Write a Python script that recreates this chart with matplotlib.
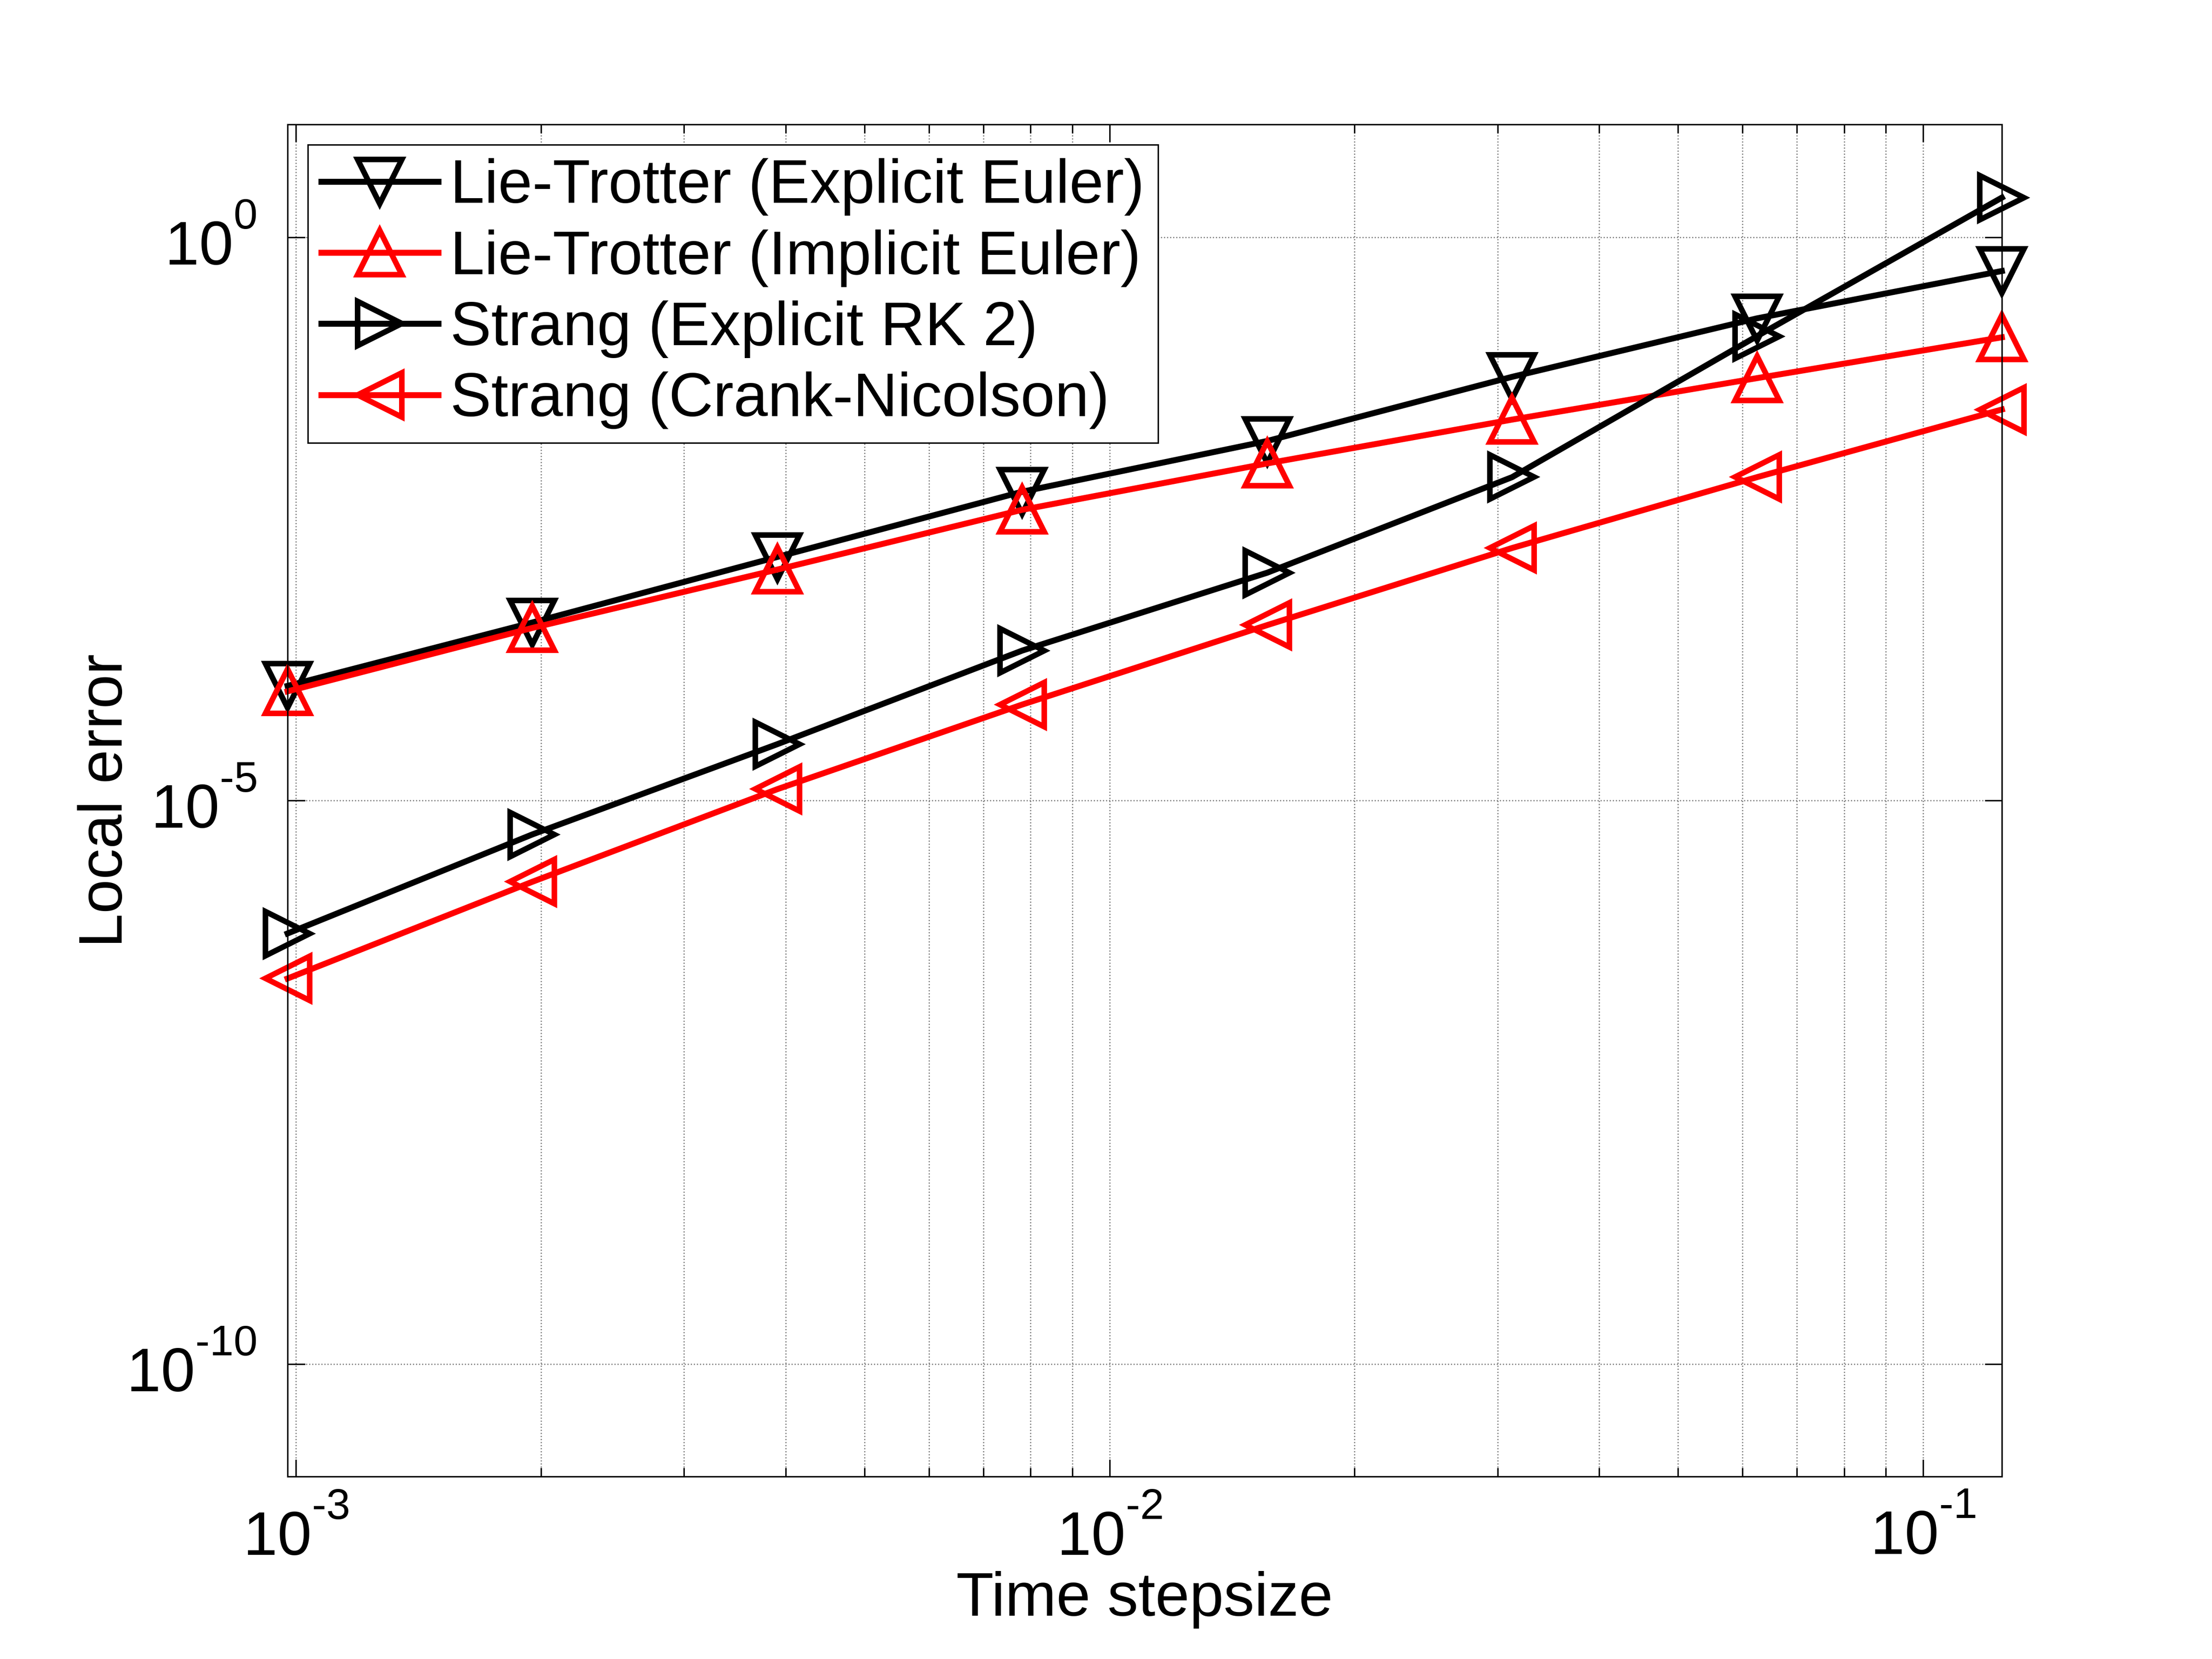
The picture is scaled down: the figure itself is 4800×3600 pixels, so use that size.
import numpy as np
import matplotlib
matplotlib.use("Agg")
import matplotlib.pyplot as plt
from matplotlib.ticker import LogLocator, NullLocator, FixedLocator, FuncFormatter

# raise superscripts a bit more, like the MATLAB tick labels
try:
    import matplotlib._mathtext as _mt
    _mt.FontConstantsBase.sup1 = 1.1
except Exception:
    pass

# time stepsizes (halved each step)
stepsizes = [0.0009765625, 0.001953125, 0.00390625, 0.0078125,
             0.015625, 0.03125, 0.0625, 0.125]

# local errors
lt_explicit = [1.04e-4, 3.8e-4, 1.45e-3, 5.5e-3, 1.55e-2, 5.75e-2, 0.19, 0.50]
lt_implicit = [9.3e-5, 3.4e-4, 1.12e-3, 3.8e-3, 9.8e-3, 2.4e-2, 5.6e-2, 0.129]
strang_rk2 = [6.6e-7, 5.0e-6, 3.16e-5, 2.14e-4, 1.05e-3, 7.4e-3, 0.132, 2.24]
strang_cn = [2.63e-7, 1.9e-6, 1.26e-5, 7.1e-5, 3.6e-4, 1.74e-3, 7.4e-3, 2.95e-2]

labels = ["Lie-Trotter (Explicit Euler)", "Lie-Trotter (Implicit Euler)",
          "Strang (Explicit RK 2)", "Strang (Crank-Nicolson)"]
yticks = [1e-10, 1e-5, 1e0]
xticks = [1e-3, 1e-2, 1e-1]

plt.rcParams['font.family'] = ['Liberation Sans', 'DejaVu Sans']
plt.rcParams['mathtext.fontset'] = 'custom'
plt.rcParams['mathtext.rm'] = 'Liberation Sans'
plt.rcParams['mathtext.it'] = 'Liberation Sans'
fs = 32

fig = plt.figure(figsize=(16, 12), dpi=300)
ax = fig.add_axes([0.13, 0.11, 0.775, 0.815])

lw = 3.1
ms = 23
series = [(lt_explicit, 'k', 'v'), (lt_implicit, 'r', '^'),
          (strang_rk2, 'k', '>'), (strang_cn, 'r', '<')]
for (vals, c, m), lab in zip(series, labels):
    ax.loglog(stepsizes, vals, color=c, marker=m, lw=lw, ms=ms,
              mew=2.9, mfc='none', mec=c, label=lab, clip_on=False)

ax.set_xlim(0.0009765625, 0.125)
ax.set_ylim(1e-11, 1e1)

ax.yaxis.set_major_locator(FixedLocator(yticks))
ax.yaxis.set_minor_locator(NullLocator())
ax.xaxis.set_major_locator(FixedLocator(xticks))
ax.xaxis.set_minor_locator(LogLocator(base=10, subs=np.arange(2, 10)))

def fmt(v, pos):
    e = int(round(np.log10(v)))
    if e < 0:
        return r'$\mathregular{10^{\text{-}%d}}$' % (-e)
    return r'$\mathregular{10^{%d}}$' % e

ax.xaxis.set_major_formatter(FuncFormatter(fmt))
ax.yaxis.set_major_formatter(FuncFormatter(fmt))

ax.tick_params(which='both', direction='in', top=True, right=True, width=0.75)
ax.tick_params(which='major', length=9, labelsize=fs)
ax.tick_params(axis='x', which='major', pad=12)
ax.tick_params(axis='y', which='major', pad=16)
ax.tick_params(which='minor', length=4.5)

ax.grid(True, which='major', axis='both', ls=':', lw=0.6, color='0.45')
ax.grid(True, which='minor', axis='x', ls=':', lw=0.6, color='0.45')
ax.set_axisbelow(True)
for s in ax.spines.values():
    s.set_linewidth(0.75)

ax.set_xlabel("Time stepsize", fontsize=fs)
ax.set_ylabel("Local error", fontsize=fs)
ax.xaxis.set_label_coords(0.5, -0.07)
ax.yaxis.set_label_coords(-0.089, 0.5)

leg = ax.legend(loc='upper left', fontsize=fs, numpoints=1, handlelength=1.9,
                handletextpad=0.2, labelspacing=0.22, borderaxespad=0.33,
                borderpad=0.22, fancybox=False, framealpha=1, edgecolor='k')
leg.get_frame().set_linewidth(0.75)

fig.savefig("out.png", dpi=300)
